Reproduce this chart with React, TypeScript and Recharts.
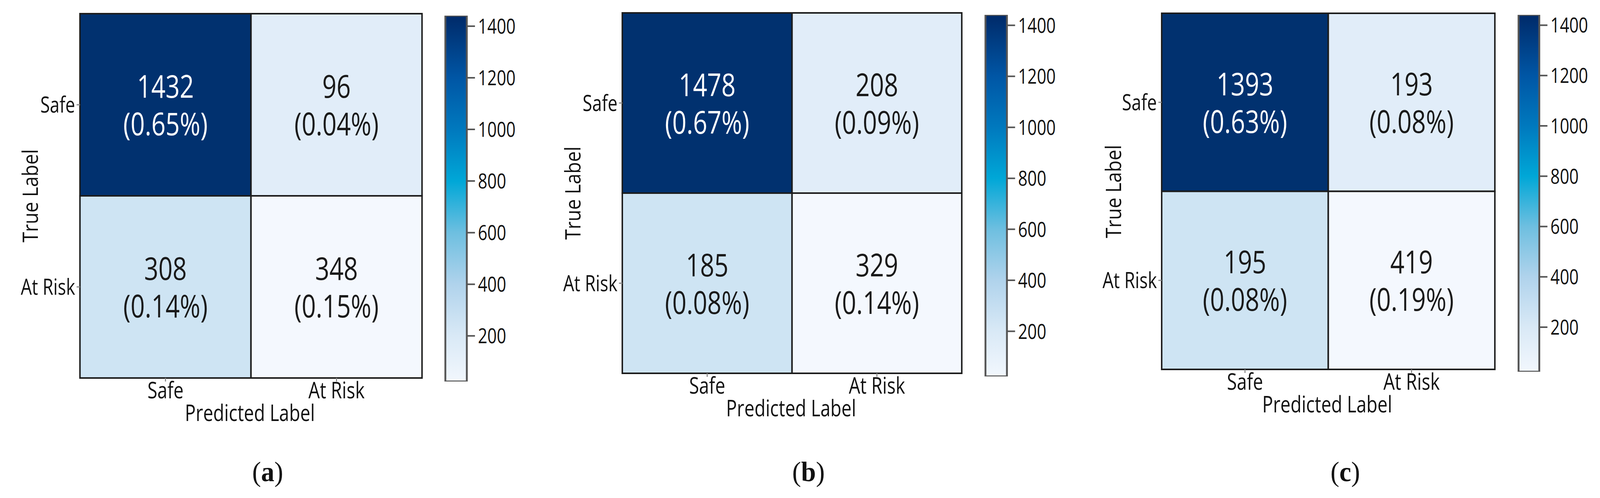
import { ScatterChart, Scatter, XAxis, YAxis, ReferenceArea, ComposedChart, Bar } from "recharts"

// --- data ---
const CLASS_LABELS = ["Safe", "At Risk"]
const PANEL_TAGS = ["a", "b", "c"]

// row-major: [true Safe / pred Safe, true Safe / pred At Risk, true At Risk / pred Safe, true At Risk / pred At Risk]
const COUNTS_A = [1432, 96, 308, 348]
const SHARES_A = ["0.65%", "0.04%", "0.14%", "0.15%"]
const COUNTS_B = [1478, 208, 185, 329]
const SHARES_B = ["0.67%", "0.09%", "0.08%", "0.14%"]
const COUNTS_C = [1393, 193, 195, 419]
const SHARES_C = ["0.63%", "0.08%", "0.08%", "0.19%"]

const CBAR_TICKS = [200, 400, 600, 800, 1000, 1200, 1400]
const CBAR_MIN = 23
const CBAR_MAX = 1441

// --- styles / layout ---
const W = 4322
const H = 1274
const FONT = "'Open Sans', 'Noto Sans', sans-serif"
const SQUEEZE = 0.84 // the original font is a narrow humanist sans
const INK = "#111"

const CELL_FILLS = ["#01316f", "#e1edf9", "#cee4f3", "#f4f8fe"]
const CELL_TEXT = ["#ffffff", "#1a1a1a", "#1a1a1a", "#1a1a1a"]

const CBAR_STOPS: [number, string][] = [
  [1441, "#002a69"],
  [1200, "#0056a5"],
  [1000, "#0079be"],
  [800, "#00a7d7"],
  [600, "#6ebfe0"],
  [400, "#b0d3ec"],
  [200, "#d9e9f6"],
  [23, "#f2f7fd"],
]

const LAYOUT = [
  { x0: 0, plot: { l: 216, r: 1140, t: 35, b: 967 }, cbar: { l: 1203, r: 1261, t: 40, b: 976 }, trueX: 80, capX: 723 },
  { x0: 1441, plot: { l: 1681, r: 2598, t: 33, b: 955 }, cbar: { l: 2662, r: 2720, t: 38, b: 963 }, trueX: 1546, capX: 2184 },
  { x0: 2882, plot: { l: 3138, r: 4038, t: 34, b: 945 }, cbar: { l: 4102, r: 4158, t: 38, b: 951 }, trueX: 3006, capX: 3634 },
]

const PANEL_DATA = [
  { counts: COUNTS_A, shares: SHARES_A },
  { counts: COUNTS_B, shares: SHARES_B },
  { counts: COUNTS_C, shares: SHARES_C },
]

function buildCells(counts: number[], shares: string[]) {
  return counts.map((count, i) => {
    const row = Math.floor(i / 2)
    const col = i % 2
    return { i, row, col, x: col + 0.5, y: row + 0.5, count, share: shares[i] }
  })
}

function NarrowText({ x, y, size, anchor, fill, children }: any) {
  return (
    <text
      transform={`translate(${x},${y}) scale(${SQUEEZE},1)`}
      x={0}
      y={0}
      textAnchor={anchor}
      fontSize={size}
      fontFamily={FONT}
      fill={fill}
    >
      {children}
    </text>
  )
}

function CellText(props: any) {
  const { cx, cy, payload } = props
  const color = CELL_TEXT[payload.i]
  return (
    <g>
      <NarrowText x={cx} y={cy - 18} size={80} anchor="middle" fill={color}>
        {payload.count}
      </NarrowText>
      <NarrowText x={cx} y={cy + 78} size={80} anchor="middle" fill={color}>
        ({payload.share})
      </NarrowText>
    </g>
  )
}

function ClassTickX(props: any) {
  const { x, y, payload } = props
  return (
    <NarrowText x={x} y={y + 41} size={58} anchor="middle" fill={INK}>
      {CLASS_LABELS[Math.floor(payload.value)]}
    </NarrowText>
  )
}

function ClassTickY(props: any) {
  const { x, y, payload } = props
  return (
    <NarrowText x={x} y={y + 20} size={56} anchor="end" fill={INK}>
      {CLASS_LABELS[Math.floor(payload.value)]}
    </NarrowText>
  )
}

function ScaleTick(props: any) {
  const { x, y, payload } = props
  return (
    <NarrowText x={x} y={y + 19} size={53} anchor="start" fill={INK}>
      {payload.value}
    </NarrowText>
  )
}

function Heatmap({ idx }: { idx: number }) {
  const { x0, plot } = LAYOUT[idx]
  const { counts, shares } = PANEL_DATA[idx]
  const cells = buildCells(counts, shares)
  const yAxisW = 130
  const xAxisH = 70
  const width = plot.r - x0 + 6
  return (
    <div style={{ position: "absolute", left: x0, top: 0 }}>
      <ScatterChart
        width={width}
        height={H}
        margin={{ top: plot.t, right: 6, bottom: H - plot.b - xAxisH, left: plot.l - x0 - yAxisW }}
      >
        <XAxis
          type="number"
          dataKey="x"
          domain={[0, 2]}
          ticks={[0.5, 1.5]}
          interval={0}
          height={xAxisH}
          axisLine={false}
          tickSize={9}
          tickMargin={2}
          tickLine={{ stroke: "#8a8a8a", strokeWidth: 3 }}
          tick={<ClassTickX />}
        />
        <YAxis
          type="number"
          dataKey="y"
          domain={[0, 2]}
          reversed
          ticks={[0.5, 1.5]}
          interval={0}
          width={yAxisW}
          axisLine={false}
          tickSize={9}
          tickMargin={4}
          tickLine={{ stroke: "#8a8a8a", strokeWidth: 3 }}
          tick={<ClassTickY />}
        />
        {cells.map((c) => (
          <ReferenceArea
            key={c.i}
            x1={c.col}
            x2={c.col + 1}
            y1={c.row}
            y2={c.row + 1}
            fill={CELL_FILLS[c.i]}
            fillOpacity={1}
            stroke="#1c1c1c"
            strokeWidth={4}
          />
        ))}
        <Scatter data={cells} isAnimationActive={false} shape={(p: any) => <CellText {...p} />} />
      </ScatterChart>
    </div>
  )
}

function Colorbar({ idx }: { idx: number }) {
  const { cbar } = LAYOUT[idx]
  const tag = PANEL_TAGS[idx]
  const padL = 10
  const chartW = Math.min(225, W - (cbar.l - padL))
  const barW = cbar.r - cbar.l
  const axisW = chartW - padL - barW - 2
  const barData = [{ k: "scale", span: [CBAR_MIN, CBAR_MAX] }]
  return (
    <div style={{ position: "absolute", left: cbar.l - padL, top: 0 }}>
      <ComposedChart
        width={chartW}
        height={H}
        data={barData}
        barCategoryGap={0}
        margin={{ top: cbar.t, bottom: H - cbar.b, left: padL, right: 2 }}
      >
        <defs>
          <linearGradient id={`cb-${tag}`} x1="0" y1="0" x2="0" y2="1">
            {CBAR_STOPS.map(([v, c]) => (
              <stop key={v} offset={(CBAR_MAX - v) / (CBAR_MAX - CBAR_MIN)} stopColor={c} />
            ))}
          </linearGradient>
        </defs>
        <XAxis dataKey="k" hide />
        <YAxis
          orientation="right"
          type="number"
          domain={[CBAR_MIN, CBAR_MAX]}
          ticks={CBAR_TICKS}
          interval={0}
          width={axisW}
          axisLine={false}
          tickSize={22}
          tickMargin={8}
          tickLine={{ stroke: "#555", strokeWidth: 4 }}
          tick={<ScaleTick />}
          allowDataOverflow
        />
        <Bar
          dataKey="span"
          fill={`url(#cb-${tag})`}
          stroke="#555"
          strokeWidth={5}
          isAnimationActive={false}
        />
      </ComposedChart>
    </div>
  )
}

function Annotations({ idx }: { idx: number }) {
  const { plot, trueX, capX } = LAYOUT[idx]
  const midX = (plot.l + plot.r) / 2
  const midY = (plot.t + plot.b) / 2
  const text: React.CSSProperties = {
    position: "absolute",
    fontFamily: FONT,
    color: INK,
    whiteSpace: "nowrap",
    lineHeight: 1,
  }
  return (
    <>
      <div
        style={{
          ...text,
          left: trueX,
          top: midY,
          fontSize: 58,
          transform: `translate(-50%, -50%) rotate(-90deg) scale(${SQUEEZE}, 1)`,
        }}
      >
        True Label
      </div>
      <div
        style={{
          ...text,
          left: midX - 3,
          top: plot.b + 88,
          fontSize: 58,
          transform: `translate(-50%, -50%) scale(${SQUEEZE}, 1)`,
        }}
      >
        Predicted Label
      </div>
      <div
        style={{
          ...text,
          left: capX,
          top: 1207,
          fontSize: 72,
          fontFamily: "'Liberation Serif', 'DejaVu Serif', serif",
          transform: "translate(-50%, -50%)",
        }}
      >
        (<b>{PANEL_TAGS[idx]}</b>)
      </div>
    </>
  )
}

export default function App() {
  // the page may get a narrower viewport than 4322px, so fit the figure into it
  const vw = window.innerWidth || W
  const vh = window.innerHeight || H
  const sx = vw / W
  const sy = vh / H
  return (
    <div style={{ position: "relative", width: vw, height: vh, overflow: "hidden", background: "#fff" }}>
      <style>{`html,body{margin:0;padding:0;background:#fff;overflow:hidden}`}</style>
      <div
        style={{
          position: "absolute",
          left: 0,
          top: 0,
          width: W,
          height: H,
          transform: `scale(${sx}, ${sy})`,
          transformOrigin: "0 0",
        }}
      >
        {LAYOUT.map((_, i) => (
          <div key={i}>
            <Heatmap idx={i} />
            <Colorbar idx={i} />
            <Annotations idx={i} />
          </div>
        ))}
      </div>
    </div>
  )
}
